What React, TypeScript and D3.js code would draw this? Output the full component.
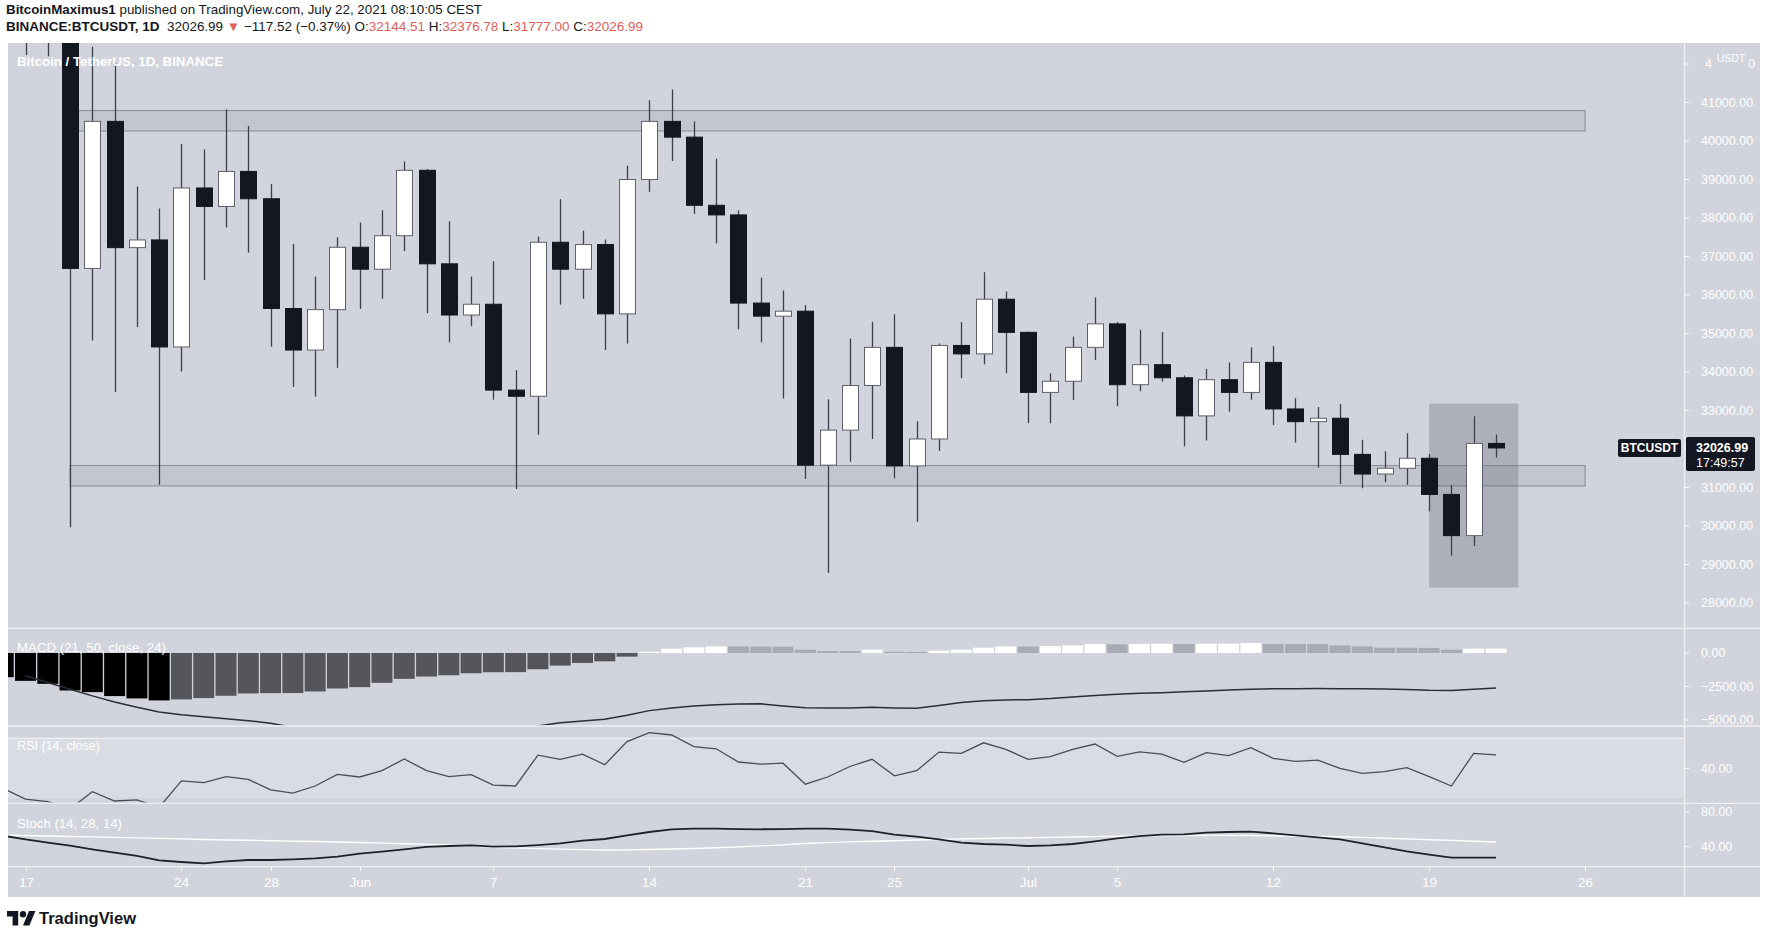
import React from "react";
import * as d3 from "d3";

const START = Date.UTC(2021, 4, 17);
const DAY = 86400000;
const dateOf = (i: number) => new Date(START + i * DAY);
const parse = (s: string) => new Date(s + "T00:00:00Z");

// Daily candles, 2021-05-17 .. 2021-07-22
const candleOpen = [46400, 43540, 42900, 36690, 40510, 37230, 37430, 34650, 38780, 38300, 39210, 38500, 35650, 34570, 35620, 37240, 36670, 37540, 39240, 36810, 35480, 35760, 33530, 33370, 37370, 36670, 37310, 35510, 39000, 40510, 40100, 38330, 38080, 35790, 35450, 35580, 31580, 32490, 33650, 34640, 31560, 32260, 34690, 34470, 35890, 35030, 33470, 33760, 34640, 35250, 33670, 34190, 33850, 32860, 33800, 33470, 34250, 33040, 32710, 32800, 31860, 31350, 31500, 31760, 30820, 29750, 32144.51];
const candleHigh = [46650, 45800, 43550, 42450, 42040, 38820, 38250, 39925, 39780, 40820, 40390, 38880, 37330, 36480, 37500, 37880, 38200, 39470, 39270, 37910, 36480, 36880, 34050, 37520, 38490, 37670, 37440, 39360, 41060, 41340, 40510, 39540, 38200, 36450, 36120, 35740, 33290, 34870, 35300, 35500, 32720, 34740, 35300, 36590, 36090, 35050, 33960, 34920, 35940, 35300, 35100, 35040, 33910, 34080, 34250, 34640, 34680, 33320, 33090, 33170, 32240, 31940, 32410, 31870, 31060, 32850, 32376.78];
const candleLow = [42230, 42200, 29970, 34820, 33480, 35165, 31070, 34010, 36390, 37750, 37100, 34660, 33610, 33360, 34110, 35640, 35900, 37140, 35530, 34770, 35190, 33280, 30960, 32370, 35750, 35900, 34570, 34740, 38680, 39480, 38100, 37340, 35110, 34770, 33310, 31220, 28780, 31670, 32260, 31240, 30110, 31950, 33840, 34200, 33970, 32670, 32670, 33270, 34310, 33110, 33500, 33750, 32070, 32220, 32970, 33280, 32620, 32170, 31520, 31090, 30980, 31140, 31070, 30380, 29230, 29480, 31777];
const candleClose = [43540, 42900, 36690, 40510, 37230, 37430, 34650, 38780, 38300, 39210, 38500, 35650, 34570, 35620, 37240, 36670, 37540, 39240, 36810, 35480, 35760, 33530, 33370, 37370, 36670, 37310, 35510, 39000, 40510, 40100, 38330, 38080, 35790, 35450, 35580, 31580, 32490, 33650, 34640, 31560, 32260, 34690, 34470, 35890, 35030, 33470, 33760, 34640, 35250, 33670, 34190, 33850, 32860, 33800, 33470, 34250, 33040, 32710, 32800, 31860, 31350, 31500, 31760, 30820, 29750, 32144.51, 32026.99];

// Indicators, 2021-05-16 .. 2021-07-22
const macdHist = [-1806, -2078, -2301, -2796, -2919, -3216, -3389, -3538, -3464, -3365, -3191, -3018, -2994, -2990, -2870, -2647, -2548, -2227, -1930, -1757, -1658, -1509, -1435, -1430, -1212, -940, -742, -619, -272, 99, 322, 421, 500, 490, 480, 470, 247, 148, 140, 247, 90, 75, 173, 247, 396, 495, 480, 510, 569, 668, 650, 680, 690, 670, 690, 700, 742, 680, 670, 660, 569, 495, 396, 390, 380, 247, 322, 330];
const rsiValues = [33.3, 29.7, 28.9, 26.5, 32.2, 29.1, 29.5, 27.0, 35.8, 35.2, 37.2, 36.3, 32.8, 31.7, 34.1, 38.0, 37.1, 39.2, 43.1, 39.2, 37.2, 37.9, 34.4, 34.1, 44.4, 43.0, 44.7, 41.2, 48.9, 51.9, 51.1, 47.2, 46.5, 42.1, 41.4, 41.7, 34.7, 37.1, 40.6, 43.0, 37.5, 39.2, 45.4, 45.0, 48.5, 46.3, 43.0, 43.9, 46.3, 48.1, 44.0, 45.5, 44.7, 42.0, 45.2, 44.2, 46.9, 43.3, 42.3, 42.7, 40.0, 38.3, 38.9, 40.2, 37.2, 34.1, 45.0, 44.5];
const stochK = [52.6, 48.4, 44.6, 41.2, 37.0, 33.2, 29.4, 24.4, 22.5, 21.0, 23.3, 24.8, 24.8, 25.6, 26.7, 28.6, 32.0, 34.3, 37.0, 39.7, 40.8, 41.6, 40.0, 40.4, 41.9, 43.9, 46.9, 48.8, 53.0, 56.8, 59.9, 60.6, 60.6, 60.2, 59.9, 60.2, 60.6, 60.6, 59.5, 57.9, 53.8, 51.5, 48.4, 44.6, 43.1, 42.3, 40.8, 41.6, 43.1, 46.1, 49.6, 52.2, 53.8, 54.1, 56.1, 56.8, 57.2, 55.3, 53.0, 50.7, 48.4, 43.9, 39.3, 34.7, 30.9, 27.5, 27.5, 27.5];
const stochD = [53.2, 52.8, 52.2, 51.7, 51.2, 50.7, 50.1, 49.5, 48.9, 48.3, 47.7, 47.3, 46.8, 46.4, 45.9, 45.4, 44.8, 44.1, 43.4, 42.6, 42.0, 40.9, 39.4, 38.6, 37.8, 37.2, 36.6, 36.3, 36.4, 36.8, 37.4, 38.0, 38.8, 39.8, 40.9, 42.1, 43.6, 44.7, 45.5, 46.2, 46.8, 47.6, 48.3, 48.9, 49.4, 49.9, 50.3, 50.7, 51.1, 51.5, 51.9, 52.3, 52.6, 52.8, 53.0, 53.0, 52.8, 52.4, 52.0, 51.6, 51.3, 50.6, 49.7, 49.0, 48.0, 47.2, 46.3, 45.4];
// MACD line, 2021-05-17 .. 2021-07-22
const macdLine = [-1700, -2200, -2700, -3200, -3650, -4050, -4400, -4600, -4750, -4900, -5050, -5250, -5550, -5800, -5900, -6000, -6150, -6300, -6400, -6450, -6400, -6200, -5800, -5450, -5200, -5080, -4950, -4650, -4300, -4100, -3950, -3870, -3800, -3790, -3950, -4090, -4100, -4100, -4040, -4100, -4130, -3920, -3700, -3560, -3500, -3480, -3400, -3280, -3170, -3080, -3010, -2960, -2900, -2830, -2760, -2700, -2670, -2660, -2650, -2660, -2670, -2690, -2720, -2780, -2800, -2700, -2620];

// 32000 is hidden behind the last-price tag in the reference
const priceTicks = [41000, 40000, 39000, 38000, 37000, 36000, 35000, 34000, 33000, 31000, 30000, 29000, 28000];
const macdTicks = [0, -2500, -5000];
const rsiTicks = [40];
const stochTicks = [80, 40];
const timeTickDates = ["2021-05-17", "2021-05-24", "2021-05-28", "2021-06-01", "2021-06-07", "2021-06-14", "2021-06-21", "2021-06-25", "2021-07-01", "2021-07-05", "2021-07-12", "2021-07-19", "2021-07-26"];
const timeTickLabels = ["17", "24", "28", "Jun", "7", "14", "21", "25", "Jul", "5", "12", "19", "26"];

const upperZone = [40260, 40790];
const lowerZone = [31040, 31570];
const zoneDates = ["2021-05-19", "2021-07-26"];
const highlightZone = [28400, 33180];
const highlightDates = ["2021-07-19", "2021-07-23"];
const lastPrice = 32026.99;
const topHiddenTick = 42000;

const candleDates = candleOpen.map((_, i) => dateOf(i));
const indDates = macdHist.map((_, i) => dateOf(i - 1));
const macdLineDates = macdLine.map((_, i) => dateOf(i));

const FONT = "'Liberation Sans', Arial, sans-serif";
const NARROW = "'Liberation Sans Narrow', 'Liberation Sans', Arial, sans-serif";
const RED = "#e35d5b";
const BG = "#d1d4dc";
const SEP = "#eef0f4";

export default function App() {
  const W = 1767, H = 931;
  const L = 8, R = 1684, AR = 1760;
  const P = { top: 43, bottom: 628 };
  const M = { top: 629, bottom: 726 };
  const RS = { top: 727, bottom: 803 };
  const S = { top: 804, bottom: 866.5 };
  const T = { top: 867, bottom: 897 };
  const LX = 1701;

  const x = d3.scaleUtc().domain([parse("2021-05-17"), parse("2021-07-26")]).range([25.5, 1585.1]);
  const step = x(dateOf(1)) - x(dateOf(0));
  const bodyW = 16;
  const histW = step - 1.3;

  const yP = d3.scaleLinear().domain([28000, 41000]).range([603, 102.5]);
  const yM = d3.scaleLinear().domain([-5000, 0]).range([720, 653]);
  const yR = d3.scaleLinear().domain([30, 50]).range([798.3, 738.3]);
  const yS = d3.scaleLinear().domain([40, 80]).range([846.7, 811.7]);

  const macdPath = d3.line<number>().x((_, i) => x(macdLineDates[i])).y((v) => yM(v))(macdLine) || "";
  const rsiPath = d3.line<number>().x((_, i) => x(indDates[i])).y((v) => yR(v))(rsiValues) || "";
  const kPath = d3.line<number>().x((_, i) => x(indDates[i])).y((v) => yS(v))(stochK) || "";
  const dPath = d3.line<number>().x((_, i) => x(indDates[i])).y((v) => yS(v))(stochD) || "";

  const zx0 = x(parse(zoneDates[0])), zx1 = x(parse(zoneDates[1]));
  const hx0 = x(parse(highlightDates[0])), hx1 = x(parse(highlightDates[1]));
  const lastY = yP(lastPrice);
  const topY = yP(topHiddenTick);

  const axisLabel = (y: number, text: string, key: string) => (
    <g key={key}>
      <line x1={R + 0.5} x2={R + 5} y1={y} y2={y} stroke="#ffffff" strokeWidth={1} />
      <text x={LX} y={y} dy="0.35em" fontSize={12.5} fill="#ffffff" fontFamily={FONT}>{text}</text>
    </g>
  );
  const fmt = (v: number) => (v < 0 ? "\u2212" : "") + Math.abs(v).toFixed(2);
  const topLabel = fmt(topHiddenTick);

  return (
    <svg width={W} height={H} style={{ position: "absolute", left: 0, top: 0, background: "#ffffff" }} xmlns="http://www.w3.org/2000/svg">
      <defs>
        <clipPath id="cpMain"><rect x={L} y={P.top} width={R - L} height={P.bottom - P.top} /></clipPath>
        <clipPath id="cpMacd"><rect x={L} y={M.top} width={R - L} height={M.bottom - M.top - 0.5} /></clipPath>
        <clipPath id="cpRsi"><rect x={L} y={RS.top} width={R - L} height={RS.bottom - RS.top - 0.5} /></clipPath>
        <clipPath id="cpStoch"><rect x={L} y={S.top} width={R - L} height={S.bottom - S.top} /></clipPath>
      </defs>

      {/* header */}
      <text x={6} y={13.5} fontSize={13} fill="#131722" fontFamily={FONT} textLength={476} lengthAdjust="spacingAndGlyphs" style={{ whiteSpace: "pre" }}>
        <tspan fontWeight={700}>BitcoinMaximus1</tspan>
        <tspan>{" published on TradingView.com, July 22, 2021 08:10:05 CEST"}</tspan>
      </text>
      <text x={6} y={30.5} fontSize={13} fill="#131722" fontFamily={FONT} textLength={637} lengthAdjust="spacingAndGlyphs" style={{ whiteSpace: "pre" }}>
        <tspan fontWeight={700}>BINANCE:BTCUSDT, 1D</tspan>
        <tspan>{"  32026.99 "}</tspan>
        <tspan fill={RED}>{"\u25BC"}</tspan>
        <tspan>{" \u2212117.52 (\u22120.37%) O:"}</tspan>
        <tspan fill={RED}>32144.51</tspan>
        <tspan>{" H:"}</tspan>
        <tspan fill={RED}>32376.78</tspan>
        <tspan>{" L:"}</tspan>
        <tspan fill={RED}>31777.00</tspan>
        <tspan>{" C:"}</tspan>
        <tspan fill={RED}>32026.99</tspan>
      </text>

      {/* chart background */}
      <rect x={L} y={P.top} width={AR - L} height={T.bottom - P.top} fill={BG} />
      {/* RSI band */}
      <rect x={L} y={yR(50)} width={R - L} height={yR(30) - yR(50)} fill="rgba(255,255,255,0.2)" />
      <line x1={L} x2={R} y1={yR(50)} y2={yR(50)} stroke="#eef0f4" strokeWidth={1.2} />

      {/* main pane */}
      <g clipPath="url(#cpMain)">
        <rect x={zx0} y={yP(upperZone[1])} width={zx1 - zx0} height={yP(upperZone[0]) - yP(upperZone[1])} fill="rgba(120,123,134,0.15)" stroke="rgba(100,104,115,0.65)" strokeWidth={1} />
        <rect x={zx0} y={yP(lowerZone[1])} width={zx1 - zx0} height={yP(lowerZone[0]) - yP(lowerZone[1])} fill="rgba(120,123,134,0.15)" stroke="rgba(100,104,115,0.65)" strokeWidth={1} />
        <rect x={hx0} y={yP(highlightZone[1])} width={hx1 - hx0} height={yP(highlightZone[0]) - yP(highlightZone[1])} fill="rgba(100,104,115,0.33)" />
        {candleOpen.map((o, i) => {
          const c = candleClose[i], h = candleHigh[i], l = candleLow[i];
          const cx = Math.round(x(candleDates[i])) + 0.5;
          const up = c >= o;
          const yTop = yP(Math.max(o, c)), yBot = yP(Math.min(o, c));
          const bh = Math.max(1, yBot - yTop);
          return (
            <g key={"c" + i}>
              <line x1={cx} x2={cx} y1={yP(h)} y2={yP(l)} stroke="#3d404a" strokeWidth={1.3} />
              <rect x={cx - bodyW / 2} y={yTop} width={bodyW} height={bh} fill={up ? "#ffffff" : "#131722"} stroke={up ? "#5d606b" : "#131722"} strokeWidth={1} />
            </g>
          );
        })}
      </g>
      <text x={17} y={61} dy="0.35em" fontSize={13} fontWeight={600} fill="#ffffff" fontFamily={FONT} textLength={206} lengthAdjust="spacingAndGlyphs">Bitcoin / TetherUS, 1D, BINANCE</text>

      {/* MACD pane */}
      <g clipPath="url(#cpMacd)">
        {macdHist.map((v, i) => {
          const prev = i > 0 ? macdHist[i - 1] : v + 1;
          const color = v < 0 ? (v < prev ? "#000000" : "#55565c") : (v > prev ? "#ffffff" : "#a8abb3");
          const cx = x(indDates[i]);
          const y0 = yM(0), y1 = yM(v);
          return <rect key={"h" + i} x={cx - histW / 2} y={Math.min(y0, y1)} width={histW} height={Math.max(1, Math.abs(y1 - y0))} fill={color} />;
        })}
        <path d={macdPath} fill="none" stroke="#2a2e39" strokeWidth={1.5} />
      </g>
      <text x={17} y={647} dy="0.35em" fontSize={13} fill="#ffffff" fontFamily={FONT} textLength={149} lengthAdjust="spacingAndGlyphs">MACD (21, 50, close, 24)</text>

      {/* RSI pane */}
      <g clipPath="url(#cpRsi)">
        <path d={rsiPath} fill="none" stroke="#4a4d57" strokeWidth={1.3} />
      </g>
      <text x={17} y={745} dy="0.35em" fontSize={13} fill="#ffffff" fontFamily={FONT} textLength={83} lengthAdjust="spacingAndGlyphs">RSI (14, close)</text>

      {/* Stoch pane */}
      <g clipPath="url(#cpStoch)">
        <path d={dPath} fill="none" stroke="#ffffff" strokeWidth={1.4} />
        <path d={kPath} fill="none" stroke="#1f2129" strokeWidth={1.8} />
      </g>
      <text x={17} y={823} dy="0.35em" fontSize={13} fill="#ffffff" fontFamily={FONT} textLength={105} lengthAdjust="spacingAndGlyphs">Stoch (14, 28, 14)</text>

      {/* separators */}
      {[P.bottom + 0.3, M.bottom, RS.bottom + 0.3, S.bottom + 0.2].map((y, i) => (
        <line key={"s" + i} x1={L} x2={AR} y1={y} y2={y} stroke={SEP} strokeWidth={1.3} />
      ))}
      <line x1={R + 0.5} x2={R + 0.5} y1={P.top} y2={T.bottom} stroke={SEP} strokeWidth={1.3} />

      {/* price axis: top tick label partly covered by the currency tag */}
      <line x1={R + 0.5} x2={R + 5} y1={topY} y2={topY} stroke="#ffffff" strokeWidth={1} />
      <text x={LX + 4} y={topY} dy="0.35em" fontSize={12.5} fill="#ffffff" fontFamily={FONT}>{topLabel.slice(0, 1)}</text>
      <text x={1731} y={topY - 6} dy="0.35em" fontSize={10.5} textAnchor="middle" fill="#ffffff" fontFamily={FONT}>USDT</text>
      <text x={1748} y={topY} dy="0.35em" fontSize={12.5} fill="#ffffff" fontFamily={FONT}>{topLabel.slice(-1)}</text>
      {priceTicks.map((p) => axisLabel(yP(p), fmt(p), "p" + p))}
      <line x1={R + 0.5} x2={R + 5} y1={yP(32000)} y2={yP(32000)} stroke="#ffffff" strokeWidth={1} />
      {macdTicks.map((v) => axisLabel(yM(v), fmt(v), "m" + v))}
      {rsiTicks.map((v) => axisLabel(yR(v), fmt(v), "r" + v))}
      {stochTicks.map((v) => axisLabel(yS(v), fmt(v), "st" + v))}

      {/* last price labels */}
      <rect x={1686} y={lastY - 11} width={69} height={34} rx={2} fill="#131722" />
      <text x={1696} y={lastY} dy="0.35em" fontSize={12.5} fontWeight={700} fill="#ffffff" fontFamily={FONT}>32026.99</text>
      <text x={1696} y={lastY + 15} dy="0.35em" fontSize={12.5} fill="#ffffff" fontFamily={FONT}>17:49:57</text>
      <rect x={1618} y={lastY - 9} width={63} height={18} rx={2} fill="#131722" />
      <text x={1649.5} y={lastY} dy="0.35em" fontSize={12} fontWeight={700} textAnchor="middle" fill="#ffffff" fontFamily={FONT}>BTCUSDT</text>

      {/* time axis */}
      {timeTickDates.map((d, i) => {
        const tx = Math.round(x(parse(d))) + 0.5;
        return (
          <g key={"t" + i}>
            <line x1={tx} x2={tx} y1={T.top} y2={T.top + 4} stroke="#ffffff" strokeWidth={1} />
            <text x={tx} y={882} dy="0.35em" fontSize={13.5} textAnchor="middle" fill="#ffffff" fontFamily={NARROW}>{timeTickLabels[i]}</text>
          </g>
        );
      })}

      {/* logo */}
      <g transform="translate(7,907.8) scale(0.8)" fill="#131722">
        <path d="M14 22H7V11H0V4h14v18zM28 22h-8l7.5-18h8L28 22z" />
        <circle cx={20} cy={8} r={4} />
      </g>
      <text x={39} y={918} dy="0.35em" fontSize={16} fontWeight={700} fill="#131722" fontFamily={NARROW} textLength={97} lengthAdjust="spacingAndGlyphs">TradingView</text>
    </svg>
  );
}
